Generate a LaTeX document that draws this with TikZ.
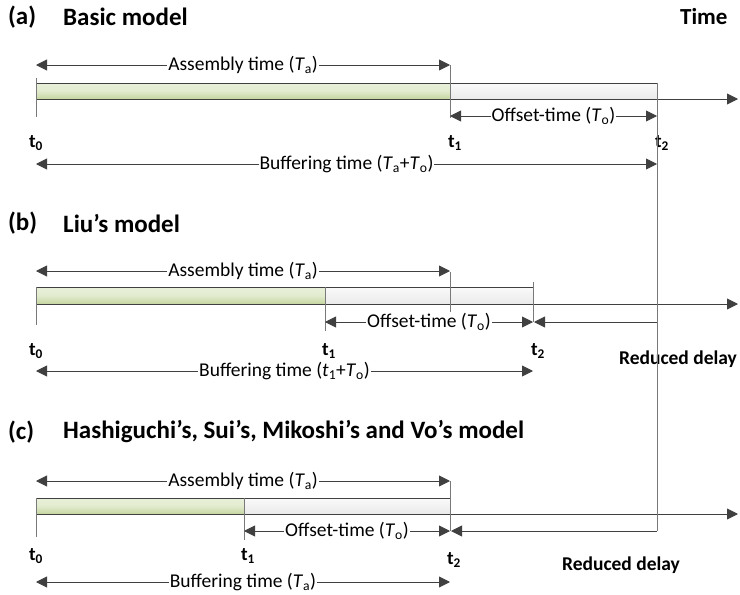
\documentclass[tikz,border=0pt]{standalone}
\usepackage{fontspec}
\setmainfont{Carlito}
\usetikzlibrary{arrows.meta}

\definecolor{lineGray}{HTML}{404040}
\definecolor{greenTop}{HTML}{E9F0DA}
\definecolor{greenBot}{HTML}{C5D6A0}
\definecolor{grayTop}{HTML}{FAFAFA}
\definecolor{grayBot}{HTML}{EAEAEA}

\begin{document}
\begin{tikzpicture}[x=1pt,y=-1pt,
  every node/.style={font=\fontsize{19.5}{23}\selectfont},
  titletext/.style={font=\fontsize{25}{29}\selectfont\bfseries,anchor=west,inner sep=0pt},
  ticklabel/.style={font=\fontsize{19}{23}\selectfont\bfseries,inner sep=0pt},
  delaylabel/.style={font=\fontsize{19.5}{23}\selectfont\bfseries,inner sep=0pt},
  dimlabel/.style={fill=white,inner sep=1pt,midway},
  tickline/.style={draw=lineGray!70,line width=0.9pt},
  assemblybar/.style={draw=lineGray,line width=0.8pt,top color=greenTop,bottom color=greenBot,middle color=greenTop!80!greenBot},
  offsetbar/.style={draw=lineGray,line width=0.8pt,top color=grayTop,bottom color=grayBot},
  dimarrow/.style={{Triangle[length=11pt,width=11pt]}-{Triangle[length=11pt,width=11pt]},draw=lineGray,line width=0.9pt},
  axisarrow/.style={-{Triangle[length=11pt,width=11pt]},draw=lineGray,line width=0.9pt},
  delayarrow/.style={-{Triangle[length=11pt,width=11pt]},draw=lineGray,line width=0.9pt},
]
\useasboundingbox (0,0) rectangle (740,595);

% ---------- (a) Basic model ----------
\node[titletext] (Ha) at (8,17) {(a)};
\node[titletext] (Ta) at (63,17) {Basic model};
\node[titletext,font=\fontsize{23}{27}\selectfont\bfseries] (TIME) at (680,17) {Time};

\coordinate (a0) at (36,99);
\coordinate (a1) at (450,99);
\coordinate (a2) at (657,99);
\coordinate (aEnd) at (738,99);

\shade[assemblybar] (36,83) rectangle (a1);
\shade[offsetbar] (450,83) rectangle (a2);
\draw[axisarrow] (a0) -- (aEnd);

\draw[tickline] (36,78) -- (36,117);
\draw[tickline] (450,65) -- (450,118);

\draw[dimarrow] (36,65) -- (450,65) node[dimlabel] {Assembly time (\textit{T}\textsubscript{a})};
\draw[dimarrow] (450,116) -- (657,116) node[dimlabel] {Offset-time (\textit{T}\textsubscript{o})};
\draw[dimarrow] (36,164) -- (657,164) node[dimlabel] {Buffering time (\textit{T}\textsubscript{a}+\textit{T}\textsubscript{o})};

\node[ticklabel] (ta0) at (36,143) {t\textsubscript{0}};
\node[ticklabel] (ta1) at (455,143) {t\textsubscript{1}};
\node[ticklabel] (ta2) at (662,143) {t\textsubscript{2}};

% ---------- (b) Liu's model ----------
\node[titletext] (Hb) at (8,223) {(b)};
\node[titletext] (Tb) at (63,223) {Liu’s model};

\coordinate (b0) at (36,304);
\coordinate (b1) at (325,304);
\coordinate (b2) at (533,304);
\coordinate (bEnd) at (738,304);

\shade[assemblybar] (36,287) rectangle (b1);
\shade[offsetbar] (325,287) rectangle (b2);
\draw[axisarrow] (b0) -- (bEnd);

\draw[tickline] (36,287) -- (36,325);
\draw[tickline] (325,287) -- (325,331);
\draw[tickline] (450,272) -- (450,313);
\draw[tickline] (533,282) -- (533,322);

\draw[dimarrow] (36,271) -- (450,271) node[dimlabel] {Assembly time (\textit{T}\textsubscript{a})};
\draw[dimarrow] (325,322) -- (533,322) node[dimlabel] {Offset-time (\textit{T}\textsubscript{o})};
\draw[dimarrow] (36,371) -- (533,371) node[dimlabel] {Buffering time (\textit{t}\textsubscript{1}+\textit{T}\textsubscript{o})};

\node[ticklabel] (tb0) at (36,351) {t\textsubscript{0}};
\node[ticklabel] (tb1) at (329,351) {t\textsubscript{1}};
\node[ticklabel] (tb2) at (538,351) {t\textsubscript{2}};
\node[delaylabel] (RDb) at (678,359) {Reduced delay};

% ---------- (c) Hashiguchi's, Sui's, Mikoshi's and Vo's model ----------
\node[titletext] (Hc) at (8,432) {(c)};
\node[titletext] (Tc) at (63,432) {Hashiguchi’s, Sui’s, Mikoshi’s and Vo’s model};

\coordinate (c0) at (36,514);
\coordinate (c1) at (244,514);
\coordinate (c2) at (450,514);
\coordinate (cEnd) at (738,514);

\shade[assemblybar] (36,498) rectangle (c1);
\shade[offsetbar] (244,498) rectangle (c2);
\draw[axisarrow] (c0) -- (cEnd);

\draw[tickline] (36,498) -- (36,537);
\draw[tickline] (244,498) -- (244,540);
\draw[tickline] (450,481) -- (450,531);

\draw[dimarrow] (36,481) -- (450,481) node[dimlabel] {Assembly time (\textit{T}\textsubscript{a})};
\draw[dimarrow] (244,531) -- (450,531) node[dimlabel] {Offset-time (\textit{T}\textsubscript{o})};
\draw[dimarrow] (36,582) -- (450,582) node[dimlabel] {Buffering time (\textit{T}\textsubscript{a})};

\node[ticklabel] (tc0) at (36,556) {t\textsubscript{0}};
\node[ticklabel] (tc1) at (248,556) {t\textsubscript{1}};
\node[ticklabel] (tc2) at (454,560) {t\textsubscript{2}};
\node[delaylabel] (RDc) at (621,565) {Reduced delay};

% ---------- Reduced delay guide ----------
\coordinate (guideTop) at (657,83);
\coordinate (guideB) at (657,322);
\coordinate (guideC) at (657,531);
\draw[tickline] (guideTop) -- (guideC);
\draw[delayarrow] (guideB) -- (534,322);
\draw[delayarrow] (guideC) -- (451,531);

\end{tikzpicture}
\end{document}
